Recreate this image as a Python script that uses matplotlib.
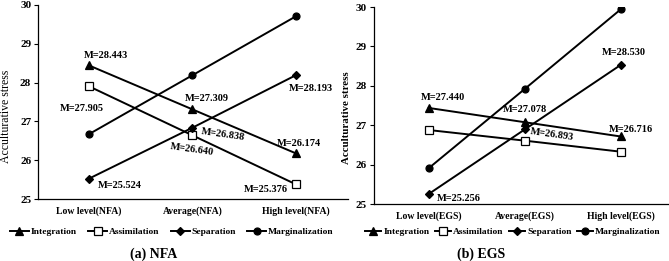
import matplotlib.pyplot as plt

plt.rcParams["font.family"] = ["Liberation Serif", "DejaVu Serif"]

series = ["Integration", "Assimilation", "Separation", "Marginalization"]
markers = ["^", "s", "D", "o"]

nfa_levels = ["Low level(NFA)", "Average(NFA)", "High level(NFA)"]
nfa_integration = [28.443, 27.309, 26.174]
nfa_assimilation = [27.905, 26.640, 25.376]
nfa_separation = [25.524, 26.838, 28.193]
nfa_marginalization = [26.67, 28.19, 29.71]

egs_levels = ["Low level(EGS)", "Average(EGS)", "High level(EGS)"]
egs_integration = [27.440, 27.078, 26.716]
egs_assimilation = [26.88, 26.61, 26.33]
egs_separation = [25.256, 26.893, 28.530]
egs_marginalization = [25.91, 27.92, 29.94]


def panel(fig, ax, levels, data, xlim, notes, caption, ylabel_font,
          ylabel_xy, legend_x, legend_kw, caption_x):
    x = range(len(levels))
    handles = []
    for name, m, vals in zip(series, markers, data):
        face = "white" if m == "s" else "black"
        size = {"^": 5.5, "s": 5.5, "D": 4, "o": 5}[m]
        h, = ax.plot(x, vals, color="black", lw=1.4, marker=m, ms=size,
                     mfc=face, mec="black", mew=0.9, label=name)
        handles.append(h)
    ax.set_xlim(*xlim)
    ax.set_ylim(25, 30)
    ax.set_yticks([25, 26, 27, 28, 29, 30])
    ax.set_xticks(list(x))
    ax.set_xticklabels(levels, fontsize=7, fontweight="bold")
    ax.tick_params(axis="x", length=0, pad=5)
    ax.tick_params(axis="y", length=3, labelsize=8, width=0.8, pad=2)
    for t in ax.get_yticklabels():
        t.set_fontweight("bold")
    ax.spines["top"].set_visible(False)
    ax.spines["right"].set_visible(False)
    ax.spines["left"].set_linewidth(0.9)
    ax.spines["bottom"].set_linewidth(0.9)
    ax.set_ylabel("Acculturative stress", **ylabel_font)
    ax.yaxis.set_label_coords(*ylabel_xy)
    for (si, pi, dx, dy, rot) in notes:
        v = data[si][pi]
        ax.annotate(f"M={v:.3f}", (pi, v), xytext=(dx, dy),
                    textcoords="offset points", fontsize=7.5, fontweight="bold",
                    ha="center", va="center", rotation=rot)
    fig.legend(handles, series, loc="center", bbox_to_anchor=(legend_x, 0.111),
               ncol=4, frameon=False, prop={"size": 6.8, "weight": "bold"},
               handletextpad=0.2, borderaxespad=0, **legend_kw)
    fig.text(caption_x, 0.026, caption, ha="center", va="center",
             fontsize=10, fontweight="bold")


fig = plt.figure(figsize=(6.69, 2.61), dpi=100)
ax1 = fig.add_axes([0.057, 0.2375, 0.463, 0.7435])
ax2 = fig.add_axes([0.559, 0.218, 0.439, 0.755])

panel(fig, ax1, nfa_levels,
      [nfa_integration, nfa_assimilation, nfa_separation, nfa_marginalization],
      (-0.49, 2.5),
      [(0, 0, 12, 7, 0), (1, 0, -5, -16, 0), (0, 1, 10, 8, 0),
       (2, 1, 22, -5, -8), (1, 1, 0, -10, -8), (0, 2, 2, 7.5, 0),
       (2, 0, 22, -5, 0), (1, 2, -22, -4, 0), (2, 2, 11, -10, 0)],
      "(a) NFA", dict(fontsize=8.5, fontweight="normal"), (-0.085, 0.428),
      0.257, dict(handlelength=2.0, columnspacing=1.2), 0.229)

panel(fig, ax2, egs_levels,
      [egs_integration, egs_assimilation, egs_separation, egs_marginalization],
      (-0.57, 2.49),
      [(0, 0, 10, 7.5, 0), (0, 1, 0, 9, 0), (2, 1, 20, -4, -8),
       (0, 2, 7.5, 5, 0), (2, 0, 22, -3, 0), (2, 2, 2, 9, 0)],
      "(b) EGS", dict(fontsize=7.8, fontweight="bold"), (-0.078, 0.437),
      0.767, dict(handlelength=1.7, columnspacing=0.6), 0.719)

fig.savefig("out.png", dpi=100)
